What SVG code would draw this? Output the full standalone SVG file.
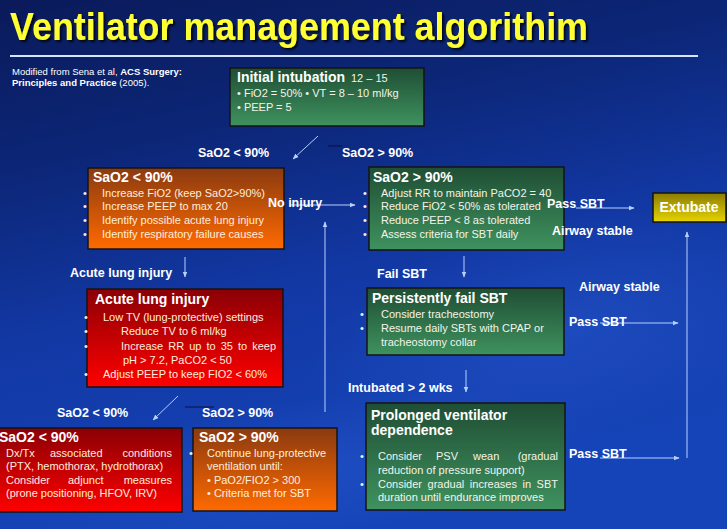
<svg xmlns="http://www.w3.org/2000/svg" width="727" height="529" viewBox="0 0 727 529">
<defs>
<linearGradient id="bg" x1="0" y1="0" x2="0.3" y2="1">
<stop offset="0" stop-color="#0a1a5a"/>
<stop offset="0.3" stop-color="#0c2677"/>
<stop offset="0.6" stop-color="#1238a4"/>
<stop offset="1" stop-color="#1544b8"/>
</linearGradient>
<radialGradient id="sw" cx="0.5" cy="0.5" r="0.5">
<stop offset="0" stop-color="#2a5ad0" stop-opacity="0.45"/>
<stop offset="1" stop-color="#2a5ad0" stop-opacity="0"/>
</radialGradient>
<linearGradient id="gGreen" x1="0" y1="0" x2="0" y2="1">
<stop offset="0" stop-color="#1f4e34"/>
<stop offset="1" stop-color="#3f925f"/>
</linearGradient>
<linearGradient id="gOrange" x1="0" y1="0" x2="0" y2="1">
<stop offset="0" stop-color="#8a3a10"/>
<stop offset="1" stop-color="#ff6a00"/>
</linearGradient>
<linearGradient id="gRed" x1="0" y1="0" x2="0" y2="1">
<stop offset="0" stop-color="#8a0006"/>
<stop offset="1" stop-color="#ff0000"/>
</linearGradient>
<linearGradient id="gYellow" x1="0" y1="0" x2="0" y2="1">
<stop offset="0" stop-color="#8c7c00"/>
<stop offset="1" stop-color="#e6d400"/>
</linearGradient>
<filter id="tsh" x="-5%" y="-20%" width="110%" height="150%">
<feDropShadow dx="2" dy="2" stdDeviation="0.8" flood-color="#000" flood-opacity="0.8"/>
</filter>
<marker id="ah" viewBox="0 0 10 10" refX="9" refY="5" markerWidth="6" markerHeight="6" orient="auto" markerUnits="userSpaceOnUse">
<path d="M0,1 L10,5 L0,9 Z" fill="#b8d0ff"/>
</marker>
<style>
text { font-family: "Liberation Sans", Arial, sans-serif; }
.title { font-size: 39px; font-weight: bold; fill: #ffff33; }
.src { font-size: 9.5px; fill: #ffffff; }
.b { font-weight: bold; }
.lbl { font-size: 12.5px; font-weight: bold; fill: #ffffff; }
.hd { font-size: 14px; font-weight: bold; fill: #ffffff; }
.tx { font-size: 11px; fill: #f4f4ea; }
.tw { font-size: 11px; fill: #ffeedd; }
.end { text-anchor: end; }
.box { stroke: #141414; stroke-width: 1.5; }
.con { stroke: #b8d0ff; stroke-width: 1; fill: none; }
.stub { stroke: #081040; stroke-width: 1; }
</style>
</defs>
<rect x="0" y="0" width="727" height="529" fill="url(#bg)"/>
<ellipse cx="560" cy="330" rx="260" ry="110" fill="url(#sw)" transform="rotate(-12 560 330)"/>
<ellipse cx="300" cy="470" rx="300" ry="70" fill="url(#sw)" transform="rotate(-8 300 470)"/>

<g id="title">
<text class="title" x="10" y="40" textLength="578" lengthAdjust="spacingAndGlyphs" filter="url(#tsh)">Ventilator management algorithim</text>
<line x1="10" y1="56" x2="698" y2="56" stroke="#d8e4ff" stroke-width="2"/>
</g>
<g id="source">
<text class="src" x="12" y="75">Modified from Sena et al, <tspan class="b">ACS Surgery:</tspan></text>
<text class="src" x="12" y="86"><tspan class="b">Principles and Practice</tspan> (2005).</text>
</g>

<g id="initial-intubation">
<rect class="box" x="230" y="68" width="194" height="58" fill="url(#gGreen)"/>
<text class="hd" x="237" y="82">Initial intubation</text>
<text class="tx" x="351" y="82">12 – 15</text>
<text class="tx" x="237" y="97">• FiO2 = 50%  • VT = 8 – 10 ml/kg</text>
<text class="tx" x="237" y="111">• PEEP = 5</text>
</g>

<g id="sao2-low">
<rect class="box" x="88" y="168" width="196" height="81" fill="url(#gOrange)"/>
<text class="hd" x="93" y="182">SaO2 &lt; 90%</text>
<text class="tw" x="83" y="197">•</text>
<text class="tw" x="102" y="197">Increase FiO2 (keep SaO2&gt;90%)</text>
<text class="tw" x="83" y="210">•</text>
<text class="tw" x="102" y="210">Increase PEEP to max 20</text>
<text class="tw" x="83" y="224">•</text>
<text class="tw" x="102" y="224">Identify possible acute lung injury</text>
<text class="tw" x="83" y="238">•</text>
<text class="tw" x="102" y="238">Identify respiratory failure causes</text>
</g>

<g id="sao2-high">
<rect class="box" x="369" y="167" width="195" height="83" fill="url(#gGreen)"/>
<text class="hd" x="373" y="182">SaO2 &gt; 90%</text>
<text class="tx" x="363" y="197">•</text>
<text class="tx" x="381" y="197">Adjust RR to maintain PaCO2 = 40</text>
<text class="tx" x="363" y="210">•</text>
<text class="tx" x="381" y="210">Reduce FiO2 &lt; 50% as tolerated</text>
<text class="tx" x="363" y="224">•</text>
<text class="tx" x="381" y="224">Reduce PEEP &lt; 8 as tolerated</text>
<text class="tx" x="363" y="238">•</text>
<text class="tx" x="381" y="238">Assess criteria for SBT daily</text>
</g>

<g id="extubate">
<rect class="box" x="653" y="193" width="73" height="29" fill="url(#gYellow)"/>
<text class="hd" x="689" y="212" text-anchor="middle" fill="#fff6c8">Extubate</text>
</g>

<g id="acute-lung-injury">
<rect class="box" x="87" y="289" width="196" height="98" fill="url(#gRed)"/>
<text class="hd" x="95" y="304">Acute lung injury</text>
<text class="tw" x="84" y="321">•</text>
<text class="tw" x="103" y="321">Low TV (lung-protective) settings</text>
<text class="tw" x="84" y="335">•</text>
<text class="tw" x="121" y="335">Reduce TV to 6 ml/kg</text>
<text class="tw" x="84" y="350">•</text>
<text class="tw" x="121" y="350" word-spacing="2">Increase RR up to 35 to keep</text>
<text class="tw" x="123" y="364">pH &gt; 7.2, PaCO2 &lt; 50</text>
<text class="tw" x="84" y="378">•</text>
<text class="tw" x="103" y="378">Adjust PEEP to keep FIO2 &lt; 60%</text>
</g>

<g id="persistently-fail">
<rect class="box" x="367" y="288" width="197" height="67" fill="url(#gGreen)"/>
<text class="hd" x="372" y="303">Persistently fail SBT</text>
<text class="tx" x="360" y="318">•</text>
<text class="tx" x="381" y="318">Consider tracheostomy</text>
<text class="tx" x="360" y="332">•</text>
<text class="tx" x="381" y="332">Resume daily SBTs with CPAP or</text>
<text class="tx" x="381" y="346">tracheostomy collar</text>
</g>

<g id="prolonged">
<rect class="box" x="366" y="403" width="199" height="107" fill="url(#gGreen)"/>
<text class="hd" x="371" y="420">Prolonged ventilator</text>
<text class="hd" x="371" y="435">dependence</text>
<text class="tx" x="360" y="460">•</text>
<text class="tx" x="378" y="460">Consider</text>
<text class="tx" x="436" y="460">PSV</text>
<text class="tx" x="473" y="460">wean</text>
<text class="tx end" x="558" y="460">(gradual</text>
<text class="tx" x="378" y="474">reduction of pressure support)</text>
<text class="tx" x="360" y="488">•</text>
<text class="tx" x="378" y="488" word-spacing="2.5">Consider gradual increases in SBT</text>
<text class="tx" x="378" y="501">duration until endurance improves</text>
</g>

<g id="bottom-low">
<rect class="box" x="-2" y="428" width="184" height="84" fill="url(#gRed)"/>
<text class="hd" x="-1" y="442">SaO2 &lt; 90%</text>
<text class="tw" x="6" y="457">Dx/Tx</text>
<text class="tw" x="50" y="457">associated</text>
<text class="tw end" x="172" y="457">conditions</text>
<text class="tw" x="6" y="470">(PTX, hemothorax, hydrothorax)</text>
<text class="tw" x="6" y="484">Consider</text>
<text class="tw" x="68" y="484">adjunct</text>
<text class="tw end" x="172" y="484">measures</text>
<text class="tw" x="6" y="497">(prone positioning, HFOV, IRV)</text>
</g>

<g id="bottom-high">
<rect class="box" x="193" y="428" width="144" height="83" fill="url(#gOrange)"/>
<text class="hd" x="199" y="442">SaO2 &gt; 90%</text>
<text class="tw" x="189" y="457">•</text>
<text class="tw" x="207" y="457">Continue lung-protective</text>
<text class="tw" x="207" y="470">ventilation until:</text>
<text class="tw" x="207" y="484">• PaO2/FIO2 &gt; 300</text>
<text class="tw" x="207" y="497">• Criteria met for SBT</text>
</g>

<g id="connectors">
<line class="con" x1="318" y1="136" x2="293" y2="159" marker-end="url(#ah)"/>
<line class="stub" x1="328" y1="146" x2="342" y2="146"/>
<line class="con" x1="290" y1="205" x2="355" y2="205" marker-end="url(#ah)"/>
<line class="con" x1="325" y1="412" x2="325" y2="222" marker-end="url(#ah)"/>
<line class="con" x1="185" y1="257" x2="185" y2="277" marker-end="url(#ah)"/>
<line class="con" x1="464" y1="256" x2="464" y2="277" marker-end="url(#ah)"/>
<line class="con" x1="466" y1="370" x2="466" y2="392" marker-end="url(#ah)"/>
<line class="con" x1="576" y1="208" x2="634" y2="208" marker-end="url(#ah)"/>
<line class="con" x1="687" y1="458" x2="687" y2="232" marker-end="url(#ah)"/>
<line class="con" x1="600" y1="323" x2="678" y2="323" marker-end="url(#ah)"/>
<line class="con" x1="600" y1="458" x2="679" y2="458" marker-end="url(#ah)"/>
<line class="con" x1="178" y1="396" x2="153" y2="420" marker-end="url(#ah)"/>
<line class="stub" x1="185" y1="407" x2="214" y2="407"/>
</g>

<g id="labels">
<text class="lbl" x="198" y="157">SaO2 &lt; 90%</text>
<text class="lbl" x="342" y="157">SaO2 &gt; 90%</text>
<text class="lbl" x="268" y="207">No injury</text>
<text class="lbl" x="547" y="208">Pass SBT</text>
<text class="lbl" x="552" y="235">Airway stable</text>
<text class="lbl" x="70" y="277">Acute lung injury</text>
<text class="lbl" x="377" y="278">Fail SBT</text>
<text class="lbl" x="579" y="291">Airway stable</text>
<text class="lbl" x="569" y="326">Pass SBT</text>
<text class="lbl" x="348" y="392">Intubated &gt; 2 wks</text>
<text class="lbl" x="569" y="458">Pass SBT</text>
<text class="lbl" x="57" y="417">SaO2 &lt; 90%</text>
<text class="lbl" x="202" y="417">SaO2 &gt; 90%</text>
</g>
</svg>
